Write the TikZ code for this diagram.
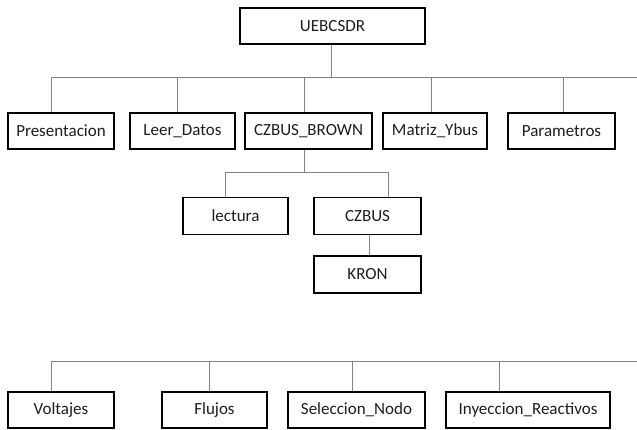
\documentclass[tikz,border=0pt]{standalone}
\usepackage{fontspec}
\setmainfont{Carlito}
\usepackage{tikz}
\usetikzlibrary{calc}
\definecolor{wiregray}{RGB}{130,130,130}
\definecolor{boxtext}{RGB}{30,30,30}
\tikzset{
  modbox/.style={draw=black, line width=1.7pt, fill=white, inner sep=0pt,
    minimum height=36pt, text=boxtext, font=\fontsize{17}{20}\selectfont},
  wire/.style={wiregray, line width=0.9pt}
}

\begin{document}
\begin{tikzpicture}[x=1pt, y=-1pt]
        \useasboundingbox (0,0) rectangle (637,430);
        % main program
        \node[modbox, minimum width=185pt] (top) at (332.5,26) {UEBCSDR};
        % first level
        \node[modbox, minimum width=106pt] (pres)  at (61,131)    {Presentacion};
        \node[modbox, minimum width=105pt] (leer)  at (182.5,131) {Leer\_Datos};
        \node[modbox, minimum width=127pt] (czbb)  at (308.5,131) {CZBUS\_BROWN};
        \node[modbox, minimum width=104pt] (ybus)  at (435,131)   {Matriz\_Ybus};
        \node[modbox, minimum width=107pt] (param) at (561.5,131) {Parametros};
        % below CZBUS_BROWN
        \node[modbox, minimum width=105pt, minimum height=37pt] (lect)  at (235.5,216) {lectura};
        \node[modbox, minimum width=107pt, minimum height=37pt] (czbus) at (367.5,216) {CZBUS};
        \node[modbox, minimum width=107pt, minimum height=37pt] (kron)  at (367.5,274.5) {KRON};
        % second group
        \node[modbox, minimum width=106pt] (volt)  at (61,410)    {Voltajes};
        \node[modbox, minimum width=105pt] (flujo) at (214.5,410) {Flujos};
        \node[modbox, minimum width=137pt] (selec) at (356.5,410) {Seleccion\_Nodo};
        \node[modbox, minimum width=164pt] (inyec) at (528,410)   {Inyeccion\_Reactivos};

        \coordinate (bus1) at (637,77);
        \coordinate (sub)  at (304,172);
        \coordinate (bus3) at (637,361);
        \draw[wire] ([xshift=-1.5pt]top.south) -- ([xshift=-1.5pt]top.south |- bus1);
        \foreach \n/\d in {pres/-10,leer/-5.5,czbb/-4.5,ybus/-4,param/1.5}
          \draw[wire] ([xshift=\d pt]\n.north) |- (bus1);
        \draw[wire] (czbb.south -| sub) -- (sub);
        \draw[wire] ([xshift=-10.5pt]lect.north) |- (sub);
        \draw[wire] ([xshift=20.5pt]czbus.north) |- (sub);
        \draw[wire] ([xshift=1.5pt]czbus.south) -- ([xshift=1.5pt]kron.north);
        \foreach \n/\d in {volt/-10,flujo/-5.5,selec/-4.5,inyec/-29}
          \draw[wire] ([xshift=\d pt]\n.north) |- (bus3);
      \end{tikzpicture}
\end{document}
